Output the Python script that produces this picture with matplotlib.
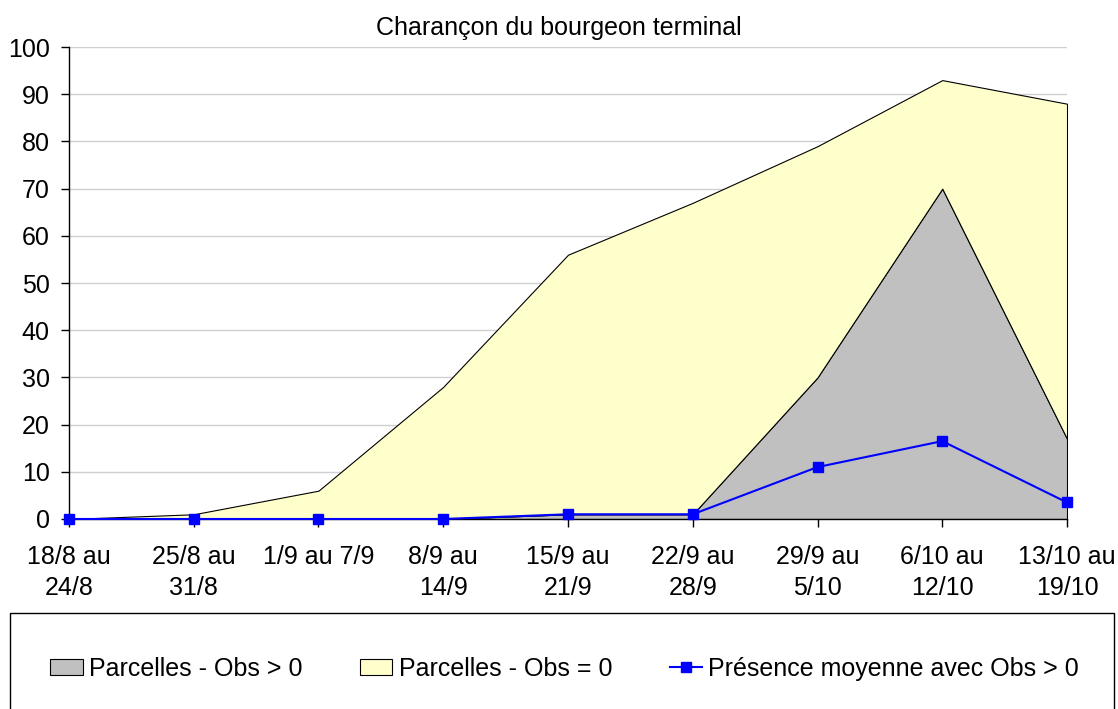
import numpy as np
import matplotlib.pyplot as plt
from matplotlib.patches import Rectangle

plt.rcParams['font.family'] = ['Liberation Sans', 'DejaVu Sans']

# Donnees
semaines = ["18/8 au\n24/8", "25/8 au\n31/8", "1/9 au 7/9", "8/9 au\n14/9",
            "15/9 au\n21/9", "22/9 au\n28/9", "29/9 au\n5/10", "6/10 au\n12/10",
            "13/10 au\n19/10"]
obs_pos = [0, 0, 0, 0, 1, 1, 30, 70, 17]          # Parcelles - Obs > 0
obs_zero = [0, 1, 6, 28, 55, 66, 49, 23, 71]      # Parcelles - Obs = 0 (empile)
presence = [0, 0, 0, 0, 1, 1, 11, 16.5, 3.5]      # Presence moyenne avec Obs > 0

x = np.arange(len(semaines))
y1 = np.array(obs_pos, dtype=float)
y2 = y1 + np.array(obs_zero, dtype=float)

fs = 18

fig = plt.figure(figsize=(11.18, 7.09), dpi=100)
ax = fig.add_axes([0.0617, 0.268, 0.8927, 0.6656])

ax.fill_between(x, 0, y1, facecolor='#c0c0c0', edgecolor='black', linewidth=0.8,
                label="Parcelles - Obs > 0", zorder=2)
ax.fill_between(x, y1, y2, facecolor='#ffffcc', edgecolor='black', linewidth=0.8,
                label="Parcelles - Obs = 0", zorder=2)
ax.plot(x, presence, color='#0000ff', linewidth=1.5, marker='s', markersize=7.5,
        label="Présence moyenne avec Obs > 0", zorder=3, clip_on=False)

ax.set_xlim(0, len(semaines) - 1)
ax.set_ylim(0, 100)
ax.set_yticks(np.arange(0, 101, 10))
ax.set_xticks(x)
ax.set_xticklabels(semaines, fontsize=fs, linespacing=1.35)
ax.tick_params(axis='y', labelsize=fs, direction='out', length=6, width=1, pad=8)
ax.tick_params(axis='x', direction='out', length=6, width=1, pad=13)
ax.grid(axis='y', color='#d0d0d0', linewidth=1, zorder=0)
ax.set_axisbelow(True)
for s in ['top', 'right']:
    ax.spines[s].set_visible(False)
ax.spines['left'].set_linewidth(1)
ax.spines['bottom'].set_linewidth(1)

fig.text(0.5, 0.961, "Charançon du bourgeon terminal", ha='center', va='center', fontsize=fs)

# Cadre de la legende
fig.patches.append(Rectangle((0.009, -0.01), 0.987, 0.145, transform=fig.transFigure,
                             facecolor='white', edgecolor='black', linewidth=1))
h, l = ax.get_legend_handles_labels()
fig.legend(h, l, loc='center', bbox_to_anchor=(0.505, 0.057), ncol=3, frameon=False,
           fontsize=fs, handlelength=1.3, handleheight=0.6, handletextpad=0.25,
           columnspacing=2.3)

fig.savefig("out.png", dpi=100)
